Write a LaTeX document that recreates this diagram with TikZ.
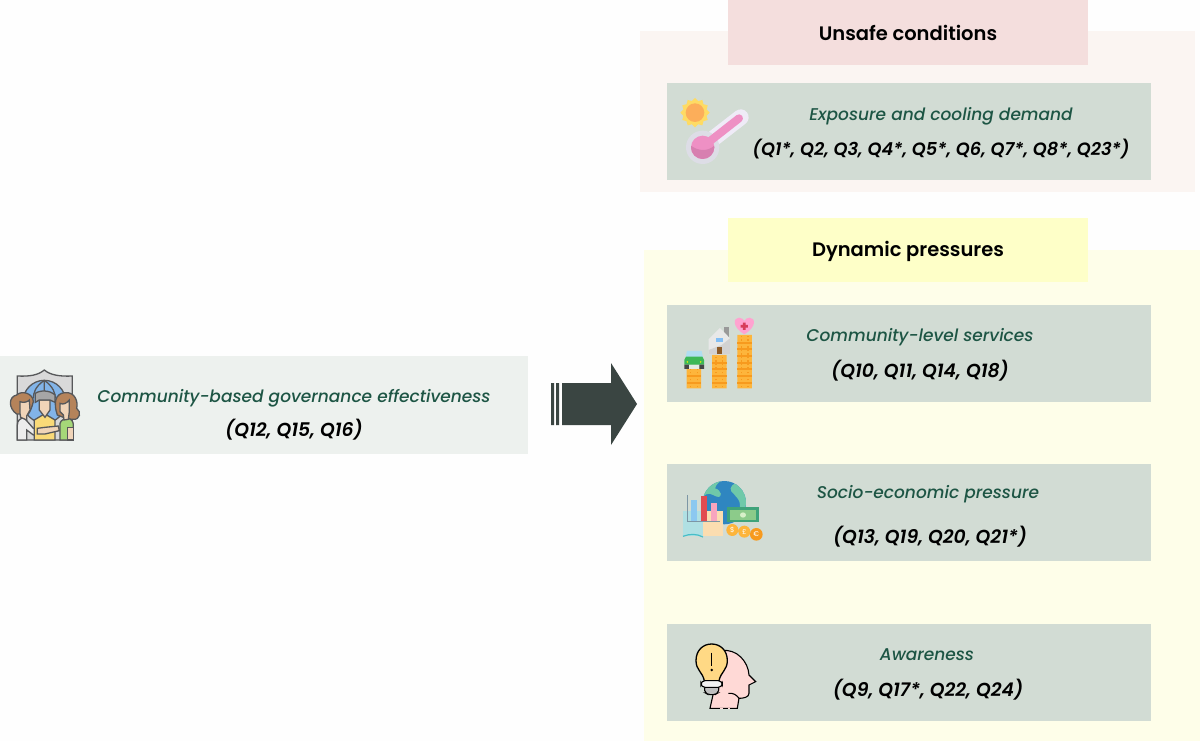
\documentclass[tikz,border=0pt]{standalone}
\usepackage{fontspec}
\usepackage{tikz}
\setmainfont{Poppins}[BoldFont={Poppins SemiBold}, ItalicFont={Poppins Medium Italic}, BoldItalicFont={Poppins SemiBold Italic}]
\definecolor{panelred}{HTML}{FBF5F2}
\definecolor{headred}{HTML}{F4DEDD}
\definecolor{panelyellow}{HTML}{FEFEE9}
\definecolor{headyellow}{HTML}{FEFFC8}
\definecolor{factorgreen}{HTML}{D2DCD4}
\definecolor{govgreen}{HTML}{EDF1EE}
\definecolor{titlegreen}{HTML}{1D5544}
\definecolor{arrowgrey}{HTML}{3A4542}
\definecolor{coin}{HTML}{FDB53C}
\definecolor{coindark}{HTML}{F79A1E}
\definecolor{linegrey}{HTML}{57585A}
\definecolor{skin}{HTML}{F0D4B8}
\definecolor{hair}{HTML}{B5835A}
\tikzset{
    panel/.style = {shape=rectangle, anchor=north west, inner sep=0pt},
    factor/.style = {panel, fill=factorgreen, minimum width=484pt, minimum height=97pt},
    head/.style = {panel, minimum width=360pt, minimum height=65pt},
    headtext/.style = {inner sep=0pt, font=\fontsize{19.5}{22}\selectfont\bfseries},
    factortext/.style = {inner sep=0pt, text=titlegreen, font=\fontsize{17}{20}\selectfont\itshape},
    qtext/.style = {inner sep=0pt, font=\fontsize{18.8}{20}\selectfont\bfseries\itshape},
    longqtext/.style = {qtext, font=\fontsize{17.8}{20}\selectfont\bfseries\itshape},
    icontext/.style = {inner sep=0pt, text=white, font=\fontsize{7}{7}\selectfont},
    person/.style = {draw=linegrey, line width=1.3pt}
}
\begin{document}
\begin{tikzpicture}[x=1pt, y=-1pt]
    \useasboundingbox (0,0) rectangle (1200,741);
    \fill[white!99.5!black] (0,0) rectangle (1200,741);

    % panels
    \node[panel, fill=panelred, minimum width=555pt, minimum height=161pt] (unsafepanel) at (640,31) {};
    \node[panel, fill=panelyellow, minimum width=556pt, minimum height=491pt] (dynamicpanel) at (644,250) {};
    \node[head, fill=headred] (unsafehead) at (728,0) {};
    \node[head, fill=headyellow, minimum height=64pt] (dynamichead) at (728,218) {};
    \node[headtext] (unsafetitle) at (908,33) {Unsafe conditions};
    \node[headtext] (dynamictitle) at (908,251) {Dynamic pressures};

    % factors
    \node[factor] (exposure) at (667,83) {};
    \node[factor] (services) at (667,305) {};
    \node[factor] (socio) at (667,464) {};
    \node[factor] (awareness) at (667,624) {};
    \node[factor, fill=govgreen, minimum width=528pt, minimum height=98pt] (governance) at (0,356) {};

    \node[factortext] (exposuretitle) at (941,116) {Exposure and cooling demand};
    \node[longqtext] (exposureq) at (941,149.5) {(Q1*, Q2, Q3, Q4*, Q5*, Q6, Q7*, Q8*, Q23*)};
    \node[factortext] (servicestitle) at (920,337) {Community-level services};
    \node[qtext] (servicesq) at (920,370.5) {(Q10, Q11, Q14, Q18)};
    \node[factortext] (sociotitle) at (928,494) {Socio-economic pressure};
    \node[qtext] (socioq) at (930,536.5) {(Q13, Q19, Q20, Q21*)};
    \node[factortext] (awarenesstitle) at (927,655) {Awareness};
    \node[qtext] (awarenessq) at (928,689.5) {(Q9, Q17*, Q22, Q24)};
    \node[factortext] (governancetitle) at (294,398) {Community-based governance effectiveness};
    \node[qtext] (governanceq) at (294,429.5) {(Q12, Q15, Q16)};

    % block arrow
    \fill[arrowgrey] (551,383) rectangle (554,425) (556,383) rectangle (559,425);
    \fill[arrowgrey] (562,383) -- (611,383) -- (611,363) -- (637,404) -- (611,445) -- (611,425) -- (562,425) -- cycle;

    % thermometer
    \begin{scope}[shift={(670,90)}, x=0.3333pt, y=-0.3333pt]
        \fill[color={rgb,255:red,254;green,219;blue,100}] (75,68) +(0:44)
            \foreach \a in {15,30,...,345} {-- +(\a:{mod(\a,30)==0 ? 44 : 36})} -- cycle;
        \fill[color={rgb,255:red,252;green,174;blue,90}] (75,68) circle (28);
        \draw[line width=16pt, line cap=round, color={rgb,255:red,239;green,235;blue,247}] (105,165) -- (212,82);
        \fill[color={rgb,255:red,221;green,221;blue,230}] (98,172) circle (50);
        \draw[line width=8pt, line cap=round, color={rgb,255:red,238;green,144;blue,196}] (105,165) -- (207,85);
        \fill[color={rgb,255:red,238;green,144;blue,196}] (98,172) circle (35);
        \begin{scope}
            \clip (98,172) circle (35);
            \fill[color={rgb,255:red,215;green,127;blue,176}] (60,165) .. controls (85,185) and (115,185) .. (135,165) -- (135,210) -- (60,210) -- cycle;
        \end{scope}
    \end{scope}

    % coins, car, house, heart
    \begin{scope}[shift={(665,300)}, x=0.3333pt, y=-0.3333pt]
        \fill[coin] (65,207) rectangle (108,265) (141,165) rectangle (185,265) (217,105) rectangle (261,265);
        \foreach \cx/\cy in {65/225,65/245,141/185,141/205,141/225,141/245,217/125,217/145,217/165,217/185,217/205,217/225,217/245}
            \fill[coindark] (\cx,\cy) rectangle +(44,6);
        \foreach \cx in {65,141,217}
            \draw[coindark, line width=1.5pt, dotted] (\cx+12,262) -- +(0,-56) (\cx+32,262) -- +(0,-56);
        \draw[coindark, line width=1.5pt, dotted] (153,206) -- (153,168) (173,206) -- (173,168) (229,206) -- (229,108) (249,206) -- (249,108);
        \fill[color={rgb,255:red,176;green,222;blue,240}] (66,153) -- (110,153) -- (114,172) -- (62,172) -- cycle;
        \fill[color={rgb,255:red,61;green,184;blue,87}] (58,194) -- (58,180) -- (63,170) -- (112,170) -- (117,180) -- (117,194) -- cycle;
        \fill[color={rgb,255:red,70;green,70;blue,70}] (58,194) rectangle (72,207) (103,194) rectangle (117,207);
        \fill[factorgreen!60!white] (72,196) rectangle (103,207);
        \fill[yellow] (67,186) circle (2.5) (107,186) circle (2.5);
        \fill[gray!80] (177,82) rectangle (192,112);
        \fill[gray!18] (131,118) -- (165,84) -- (195,115) -- (195,163) -- (131,163) -- cycle;
        \fill[gray!35] (131,150) -- (170,135) -- (195,115) -- (195,163) -- (131,163) -- cycle;
        \fill[color={rgb,255:red,130;green,190;blue,245}] (153,113) rectangle (174,127);
        \fill[color={rgb,255:red,140;green,90;blue,40}] (156,142) rectangle (171,163);
        \fill[color={rgb,255:red,255;green,163;blue,208}] (238,103) .. controls (200,80) and (205,53) .. (222,53) .. controls (230,53) and (236,58) .. (238,63) .. controls (240,58) and (246,53) .. (254,53) .. controls (271,53) and (276,80) .. (238,103) -- cycle;
        \fill[color={rgb,255:red,215;green,60;blue,90}] (234,68) rectangle (242,90) (227,75) rectangle (249,83);
    \end{scope}

    % globe, chart, money
    \begin{scope}[shift={(665,465)}, x=0.3333pt, y=-0.3333pt]
        \fill[color={rgb,255:red,47;green,134;blue,192}] (178,113) circle (65);
        \begin{scope}
            \clip (178,113) circle (65);
            \fill[color={rgb,255:red,111;green,201;blue,169}] (110,100) .. controls (130,75) and (140,90) .. (155,95) .. controls (175,100) and (170,75) .. (150,70) .. controls (160,40) and (190,40) .. (215,55) .. controls (190,60) and (195,80) .. (205,85) .. controls (215,100) and (225,100) .. (225,125) .. controls (235,135) and (245,130) .. (245,100) -- (250,40) -- (110,40) -- cycle;
        \end{scope}
        \fill[color={rgb,255:red,176;green,224;blue,227}] (54,137) rectangle (114,212);
        \fill[color={rgb,255:red,251;green,221;blue,176}] (114,137) rectangle (174,214);
        \draw[color={rgb,255:red,70;green,190;blue,200}, line width=1.2pt] (54,214) .. controls (75,206) and (95,206) .. (114,216);
        \fill[color={rgb,255:red,140;green,200;blue,240}] (77,105) rectangle (96,168);
        \fill[color={rgb,255:red,225;green,75;blue,80}] (107,92) rectangle (126,168);
        \fill[color={rgb,255:red,248;green,165;blue,190}] (137,115) rectangle (156,168);
        \draw[color={rgb,255:red,125;green,150;blue,165}, line width=1pt] (66,90) -- (66,169) -- (165,169);
        \fill[color={rgb,255:red,63;green,163;blue,122}] (186,127) rectangle (282,172);
        \fill[color={rgb,255:red,140;green,203;blue,138}] (195,135) rectangle (273,164);
        \fill[color={rgb,255:red,215;green,240;blue,200}] (234,150) ellipse (9 and 8);
        \fill[coin] (202,195) circle (18) (238,200) circle (18);
        \fill[coindark] (274,208) circle (19);
        \node[icontext] (dollar) at (202,195) {\$};
        \node[icontext] (pound) at (238,200) {£};
        \node[icontext] (euro) at (274,208) {€};
    \end{scope}

    % head with bulb
    \begin{scope}[shift={(665,630)}, x=0.3333pt, y=-0.3333pt]
        \filldraw[fill={rgb,255:red,255;green,217;blue,214}, draw=black, line width=1.1pt] (170,62) .. controls (215,55) and (250,95) .. (252,135) -- (272,155) -- (252,165) -- (252,190) .. controls (252,202) and (235,205) .. (222,205) -- (217,235) -- (135,235) -- (145,190) -- (150,140) -- cycle;
        \draw[line width=1.1pt] (190,190) .. controls (205,188) and (215,195) .. (222,205);
        \draw[line width=1.5pt, color={rgb,255:red,255;green,217;blue,214}, dash pattern=on 3pt off 5pt] (165,235) -- (195,235);
        \filldraw[fill={rgb,255:red,255;green,217;blue,133}, draw=black, line width=1.3pt] (118,152) .. controls (112,125) and (93,120) .. (93,92) .. controls (93,60) and (115,42) .. (140,42) .. controls (165,42) and (187,60) .. (187,92) .. controls (187,120) and (168,125) .. (162,152) -- cycle;
        \filldraw[fill=gray!50, draw=black, line width=1.1pt, rounded corners=2pt] (118,170) -- (162,170) -- (160,188) -- (150,194) -- (130,194) -- (120,188) -- cycle;
        \filldraw[fill=gray!10, draw=black, line width=1.1pt, rounded corners=4pt] (108,152) rectangle (172,172);
        \draw[line width=1.4pt] (140,68) -- (140,108);
        \fill (140,120) circle (4);
    \end{scope}

    % shield, globe, people
    \begin{scope}[shift={(0,340)}, x=0.3333pt, y=-0.3333pt]
        \filldraw[fill=gray!30, person] (52,108) .. controls (90,110) and (115,105) .. (133,90) .. controls (150,105) and (180,110) .. (217,108) -- (217,300) -- (52,300) -- cycle;
        \filldraw[fill={rgb,255:red,130;green,180;blue,232}, person] (133,185) circle (64);
        \draw[person] (133,121) .. controls (105,140) and (100,160) .. (100,175) (133,121) .. controls (160,140) and (166,160) .. (166,175) (133,121) -- (133,165);
        % left person
        \filldraw[fill=gray!15, person] (52,300) -- (52,255) .. controls (52,240) and (62,235) .. (72,233) -- (100,265) -- (120,268) -- (120,282) -- (100,285) -- (80,270) -- (80,300) -- cycle;
        \filldraw[fill=hair, person] (50,222) .. controls (25,205) and (25,170) .. (50,165) .. controls (65,150) and (100,160) .. (100,185) .. controls (95,205) and (90,215) .. (85,222) -- cycle;
        \filldraw[fill=skin, person] (60,185) .. controls (70,190) and (85,185) .. (88,180) -- (90,210) -- (80,228) -- (80,240) -- (62,232) -- (60,220) -- cycle;
        % right person
        \filldraw[fill=hair, person] (172,225) .. controls (160,190) and (165,160) .. (195,158) .. controls (225,155) and (235,185) .. (230,205) .. controls (245,215) and (240,240) .. (220,238) -- (205,238) -- cycle;
        \filldraw[fill={rgb,255:red,165;green,215;blue,120}, person] (180,300) -- (180,250) .. controls (182,240) and (195,235) .. (205,235) .. controls (215,238) and (220,245) .. (220,255) -- (220,300) -- cycle;
        \filldraw[fill=skin, person] (203,300) -- (203,262) -- (220,262) -- (220,300) -- cycle;
        \filldraw[fill=skin, person] (180,190) .. controls (190,195) and (200,190) .. (208,180) -- (208,215) -- (205,238) -- (192,240) -- (190,225) -- (180,215) -- cycle;
        % middle person
        \filldraw[fill={rgb,255:red,250;green,218;blue,120}, person] (103,300) -- (103,240) -- (128,225) -- (140,225) -- (165,240) -- (165,300) -- cycle;
        \filldraw[fill=skin, person] (118,180) -- (150,180) -- (150,210) -- (135,232) -- (118,210) -- cycle;
        \filldraw[fill=gray!70, person] (106,187) -- (106,160) .. controls (120,150) and (150,150) .. (165,165) -- (165,187) -- (150,180) -- (118,180) -- cycle;
        % hands
        \filldraw[fill=skin, person] (112,265) -- (135,262) -- (175,258) -- (178,272) -- (135,282) -- (112,282) -- cycle;
    \end{scope}
\end{tikzpicture}
\end{document}
